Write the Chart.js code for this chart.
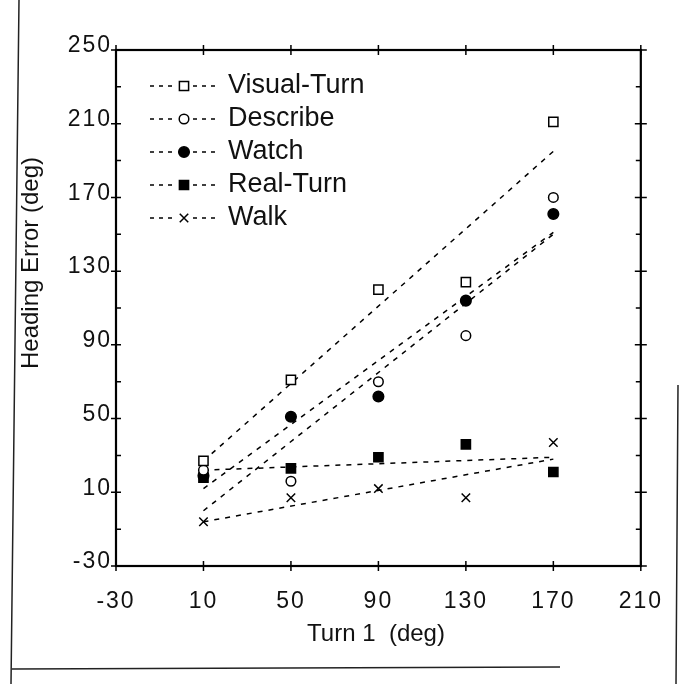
<!DOCTYPE html>
<html>
<head>
<meta charset="utf-8">
<title>Heading Error vs Turn 1</title>
<script src="https://cdn.jsdelivr.net/npm/chart.js@4.4.1/dist/chart.umd.min.js"></script>
<style>
    html, body { margin: 0; padding: 0; background: #fff; }
    #wrap { width: 682px; height: 684px; }
</style>
</head>
<body>
<div id="wrap"><canvas id="headingChart" width="682" height="684"></canvas></div>
<script>
// Turn 1 angles (deg), x axis
var turnAngles = [10, 50, 90, 130, 170];

// Heading error (deg) for each condition
var visualTurn = [27, 71, 120, 124, 211];
var describe = [22, 16, 70, 95, 170];
var watch = [19, 51, 62, 114, 161];
var realTurn = [18, 23, 29, 36, 21];
var walk = [-6, 7, 12, 7, 37];

// Fitted lines: values at the first and last turn angle
var fitEnds = [10, 170];
var visualTurnFit = [27, 195];
var describeFit = [0, 150];
var watchFit = [12, 151];
var realTurnFit = [22, 29];
var walkFit = [-6, 28];

var seriesNames = ["Visual-Turn", "Describe", "Watch", "Real-Turn", "Walk"];

var xTicks = [-30, 10, 50, 90, 130, 170, 210];
var yTicks = [-30, 10, 50, 90, 130, 170, 210, 250];

// marker look per series (same order as seriesNames)
var markers = [
    { style: "rect", radius: 6.5, fill: "#fff" },
    { style: "circle", radius: 4.8, fill: "#fff" },
    { style: "circle", radius: 5.3, fill: "#000" },
    { style: "rect", radius: 6.5, fill: "#000" },
    { style: "crossRot", radius: 6, fill: "#000" }
];

var FONT = "'Liberation Sans', Arial, Helvetica, sans-serif";

function toPoints(xs, ys) {
    return xs.map(function (x, i) { return { x: x, y: ys[i] }; });
}

var seriesValues = [visualTurn, describe, watch, realTurn, walk];
var seriesFits = [visualTurnFit, describeFit, watchFit, realTurnFit, walkFit];

var datasets = [];
seriesNames.forEach(function (name, i) {
    datasets.push({
        label: name,
        data: toPoints(turnAngles, seriesValues[i]),
        showLine: false,
        pointStyle: markers[i].style,
        pointRadius: markers[i].radius,
        pointBackgroundColor: markers[i].fill,
        pointBorderColor: "#000",
        pointBorderWidth: 1.5,
        order: 1
    });
});
seriesNames.forEach(function (name, i) {
    datasets.push({
        label: name + " fit",
        data: toPoints(fitEnds, seriesFits[i]),
        showLine: true,
        borderColor: "#000",
        borderWidth: 1.5,
        borderDash: [5, 6],
        pointRadius: 0,
        fill: false,
        order: 2
    });
});

// draw one legend marker, same shapes as the chart points
function drawMarker(ctx, m, x, y) {
    ctx.save();
    ctx.lineWidth = 1.5;
    ctx.strokeStyle = "#000";
    ctx.fillStyle = m.fill;
    ctx.beginPath();
    if (m.style === "rect") {
        var s = Math.SQRT1_2 * m.radius;
        ctx.rect(x - s, y - s, 2 * s, 2 * s);
        ctx.fill();
        ctx.stroke();
    } else if (m.style === "circle") {
        ctx.arc(x, y, m.radius, 0, Math.PI * 2);
        ctx.fill();
        ctx.stroke();
    } else {
        var c = Math.SQRT1_2 * m.radius;
        ctx.moveTo(x - c, y - c);
        ctx.lineTo(x + c, y + c);
        ctx.moveTo(x - c, y + c);
        ctx.lineTo(x + c, y - c);
        ctx.stroke();
    }
    ctx.restore();
}

var frameAndLegend = {
    id: "frameAndLegend",
    beforeDraw: function (chart) {
        // spaced digits on the tick labels, like the original plot
        chart.ctx.letterSpacing = "2px";
    },
    beforeDatasetsDraw: function (chart) {
        chart.ctx.letterSpacing = "0px";
    },
    afterDraw: function (chart) {
        var ctx = chart.ctx;
        var a = chart.chartArea;
        var xs = chart.scales.x;
        var ys = chart.scales.y;
        ctx.save();
        ctx.letterSpacing = "0px";
        ctx.strokeStyle = "#000";

        // plot frame
        ctx.lineWidth = 2.2;
        ctx.strokeRect(a.left, a.top, a.right - a.left, a.bottom - a.top);

        // tick marks on all four sides
        ctx.lineWidth = 1.5;
        ctx.beginPath();
        yTicks.forEach(function (v, i) {
            var py = ys.getPixelForValue(v);
            ctx.moveTo(a.left - 5, py); ctx.lineTo(a.left + 5, py);
            ctx.moveTo(a.right - 6, py); ctx.lineTo(a.right + 6, py);
            if (i < yTicks.length - 1) {
                var my = ys.getPixelForValue((v + yTicks[i + 1]) / 2);
                ctx.moveTo(a.left, my); ctx.lineTo(a.left + 5, my);
                ctx.moveTo(a.right - 5, my); ctx.lineTo(a.right, my);
            }
        });
        xTicks.forEach(function (v) {
            var px = xs.getPixelForValue(v);
            ctx.moveTo(px, a.bottom - 5); ctx.lineTo(px, a.bottom + 5);
            ctx.moveTo(px, a.top - 5); ctx.lineTo(px, a.top + 5);
        });
        ctx.stroke();

        // legend: dashed line with the marker in the middle
        var rowY = [86, 119, 152, 185, 218];
        ctx.font = "27px " + FONT;
        ctx.fillStyle = "#111";
        ctx.textBaseline = "middle";
        ctx.textAlign = "left";
        seriesNames.forEach(function (name, i) {
            var y = rowY[i];
            ctx.save();
            ctx.setLineDash([4, 5]);
            ctx.lineWidth = 1.5;
            ctx.strokeStyle = "#000";
            ctx.beginPath();
            ctx.moveTo(150, y); ctx.lineTo(175, y);
            ctx.moveTo(193, y); ctx.lineTo(217, y);
            ctx.stroke();
            ctx.restore();
            drawMarker(ctx, markers[i], 184, y);
            ctx.fillText(name, 228, y);
        });

        // axis titles
        ctx.font = "24px " + FONT;
        ctx.textAlign = "center";
        ctx.fillText("Turn 1  (deg)", 376, 634);
        ctx.save();
        ctx.translate(31, 263);
        ctx.rotate(-Math.PI / 2);
        ctx.fillText("Heading Error (deg)", 0, 0);
        ctx.restore();

        // page edges from the scan
        ctx.lineWidth = 1.5;
        ctx.strokeStyle = "#222";
        ctx.beginPath();
        ctx.moveTo(19, 0); ctx.lineTo(11, 684);
        ctx.moveTo(12, 669); ctx.lineTo(560, 667);
        ctx.moveTo(678, 385); ctx.lineTo(676, 684);
        ctx.stroke();
        ctx.restore();
    }
};

var ctx = document.getElementById("headingChart").getContext("2d");
var headingChart = new Chart(ctx, {
    type: "scatter",
    data: { datasets: datasets },
    plugins: [frameAndLegend],
    options: {
        responsive: false,
        animation: false,
        layout: { padding: { top: 50, right: 34, left: 0, bottom: 0 } },
        plugins: {
            legend: { display: false },
            tooltip: { enabled: false }
        },
        scales: {
            x: {
                type: "linear",
                min: -30,
                max: 210,
                afterBuildTicks: function (scale) {
                    scale.ticks = xTicks.map(function (v) { return { value: v }; });
                },
                afterFit: function (scale) { scale.height = 118; },
                grid: { display: false, drawTicks: false },
                border: { display: false },
                ticks: {
                    padding: 22,
                    color: "#111",
                    font: { family: FONT, size: 23 },
                    maxRotation: 0,
                    autoSkip: false
                }
            },
            y: {
                type: "linear",
                min: -30,
                max: 250,
                afterBuildTicks: function (scale) {
                    scale.ticks = yTicks.map(function (v) { return { value: v }; });
                },
                afterFit: function (scale) { scale.width = 116; },
                grid: { display: false, drawTicks: false },
                border: { display: false },
                ticks: {
                    padding: 4,
                    labelOffset: -4,
                    color: "#111",
                    font: { family: FONT, size: 23 },
                    autoSkip: false
                }
            }
        }
    }
});
</script>
</body>
</html>
